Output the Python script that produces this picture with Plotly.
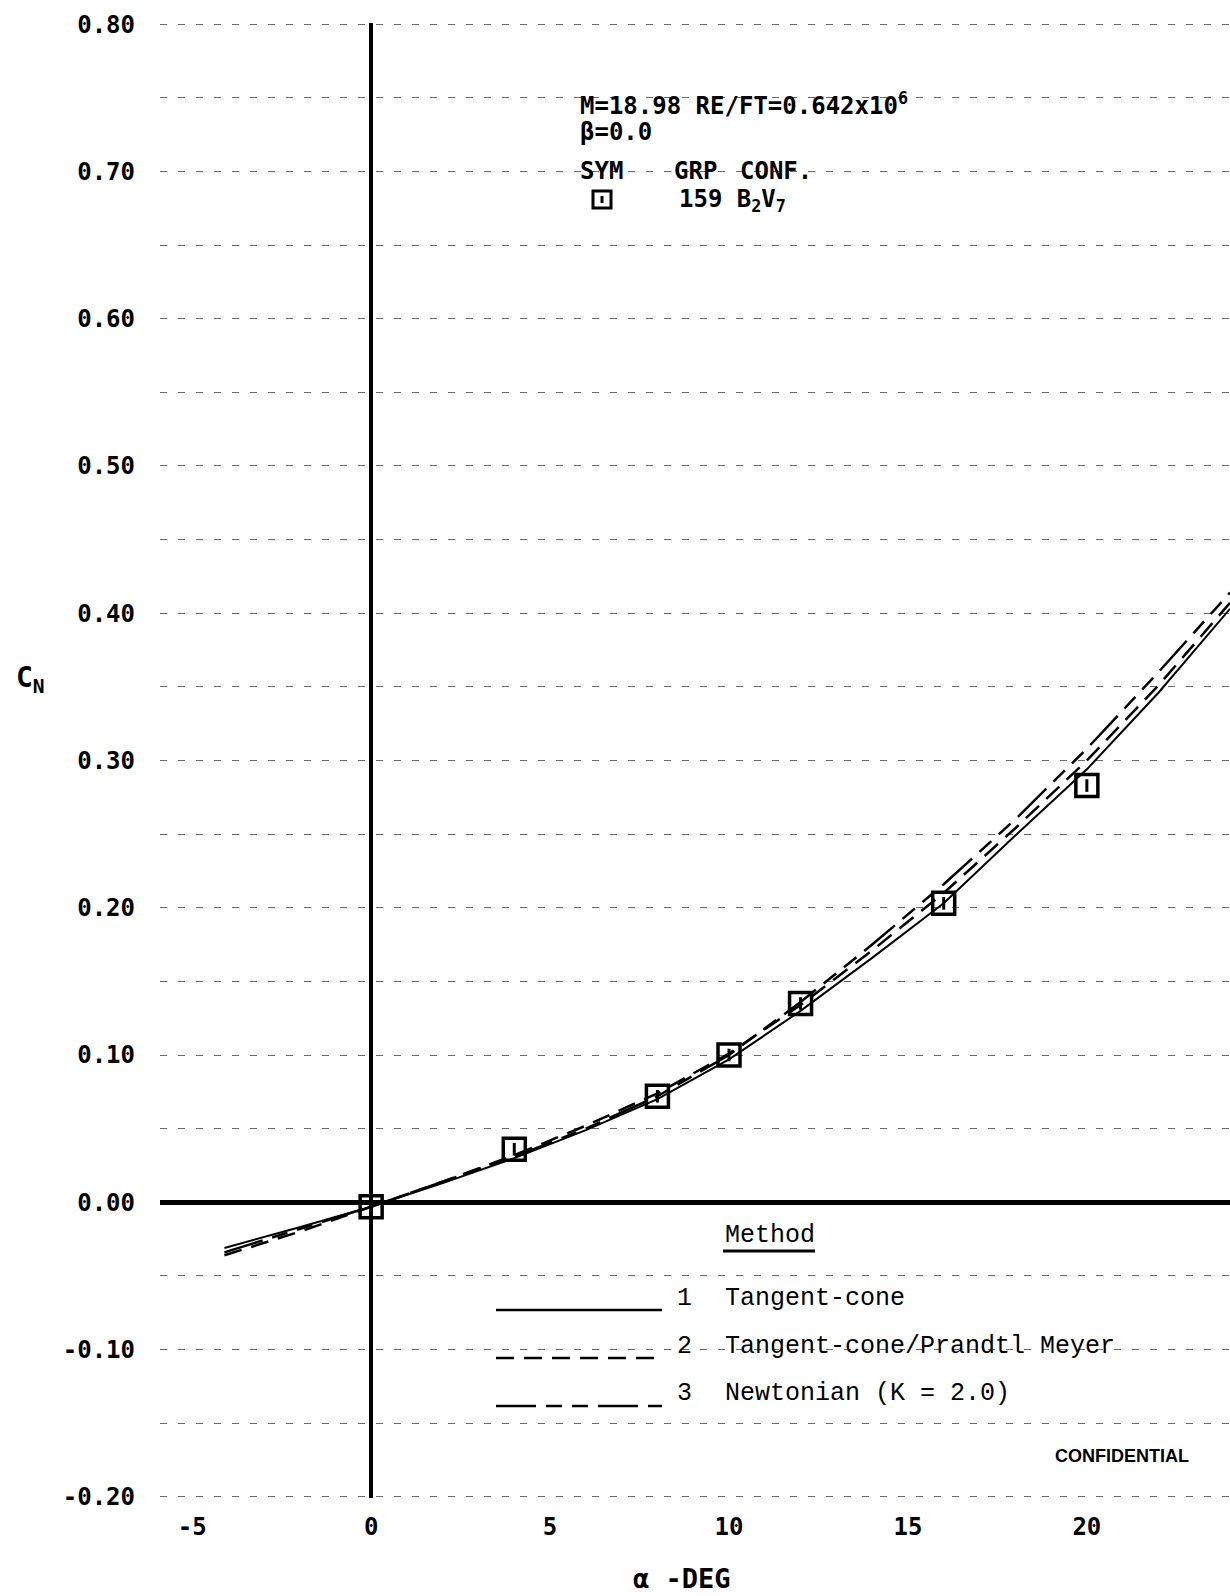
import plotly.graph_objects as go

# ---- data ----
alpha_test = [0, 4, 8, 10, 12, 16, 20]
cn_test = [-0.003, 0.036, 0.072, 0.100, 0.135, 0.203, 0.283]

alpha_curve = [-4.1, -2, 0, 2, 4, 6, 8, 10, 12, 14, 16, 18, 20, 22, 24]
cn_tangent_cone = [-0.031, -0.017, -0.003, 0.013, 0.030, 0.049, 0.070, 0.097, 0.130, 0.166, 0.203, 0.249, 0.294, 0.346, 0.403]
cn_tc_prandtl_meyer = [-0.036, -0.020, -0.003, 0.014, 0.032, 0.052, 0.074, 0.101, 0.134, 0.171, 0.210, 0.254, 0.300, 0.351, 0.407]
cn_newtonian = [-0.034, -0.018, -0.003, 0.014, 0.031, 0.050, 0.072, 0.100, 0.136, 0.175, 0.216, 0.260, 0.308, 0.360, 0.414]

x_tick_vals = [-5, 0, 5, 10, 15, 20]
x_tick_text = ["-5", "0", "5", "10", "15", "20"]
y_tick_vals = [-0.2, -0.1, 0.0, 0.1, 0.2, 0.3, 0.4, 0.5, 0.6, 0.7, 0.8]
y_tick_text = ["-0.20", "-0.10", "0.00", "0.10", "0.20", "0.30", "0.40", "0.50", "0.60", "0.70", "0.80"]

method_names = ["Tangent-cone", "Tangent-cone/Prandtl Meyer", "Newtonian (K = 2.0)"]

PLOT_FONT = "DejaVu Sans Mono"
TYPE_FONT = "Liberation Mono"
DASH2 = "18px,10px"
DASH3 = "40px,10px,16px,10px,16px,10px"

fig = go.Figure()

fig.add_trace(go.Scatter(x=alpha_curve, y=cn_tangent_cone, mode="lines",
                         line=dict(color="black", width=2), name=method_names[0]))
fig.add_trace(go.Scatter(x=alpha_curve, y=cn_tc_prandtl_meyer, mode="lines",
                         line=dict(color="black", width=2.5, dash=DASH2), name=method_names[1]))
fig.add_trace(go.Scatter(x=alpha_curve, y=cn_newtonian, mode="lines",
                         line=dict(color="black", width=2.5, dash=DASH3), name=method_names[2]))
fig.add_trace(go.Scatter(x=alpha_test, y=cn_test, mode="markers",
                         marker=dict(symbol="square-open", size=22, color="black",
                                     line=dict(width=3.5, color="black")), name="159 B2V7"))
fig.add_trace(go.Scatter(x=alpha_test, y=cn_test, mode="markers",
                         marker=dict(symbol="line-ns-open", size=9, color="black",
                                     line=dict(width=3, color="black")), hoverinfo="skip"))

grid_color = "#6a6a6a"
fig.update_layout(
    width=1230, height=1596,
    margin=dict(l=160, r=0, t=23, b=98),
    plot_bgcolor="white", paper_bgcolor="white",
    showlegend=False,
    xaxis=dict(range=[-5.9, 24.0], tickmode="array", tickvals=x_tick_vals, ticktext=x_tick_text,
               showgrid=False, zeroline=True, zerolinewidth=4, zerolinecolor="black",
               showline=False, ticks="",
               tickfont=dict(family=PLOT_FONT, size=24, color="black", weight="bold"),
               ticklabelstandoff=12),
    yaxis=dict(range=[-0.2008, 0.8008], tickmode="array", tickvals=y_tick_vals, ticktext=y_tick_text,
               showgrid=True, gridcolor=grid_color, gridwidth=1.2, griddash="7px,11px",
               minor=dict(dtick=0.05, tick0=0, showgrid=True, gridcolor=grid_color,
                          gridwidth=1.2, griddash="7px,11px"),
               zeroline=True, zerolinewidth=5, zerolinecolor="black",
               showline=False, ticks="",
               tickfont=dict(family=PLOT_FONT, size=24, color="black", weight="bold"),
               ticklabelstandoff=24),
)

# window-pixel -> paper coordinates (plot area spans x 160..1230, y 23..1498)
def px_x(px):
    return (px - 160) / 1070.0

def px_y(py):
    return (1498 - py) / 1475.0

ann = []
plot_font = dict(family=PLOT_FONT, size=24, color="black", weight="bold")
# axis titles
ann.append(dict(x=px_x(682), y=px_y(1578), text="α -DEG", font=dict(family=PLOT_FONT, size=27, color="black", weight="bold"),
                showarrow=False, xref="paper", yref="paper", xanchor="center", yanchor="middle"))
ann.append(dict(x=px_x(30), y=px_y(679), text="C<sub>N</sub>", font=dict(family=PLOT_FONT, size=28, color="black", weight="bold"),
                showarrow=False, xref="paper", yref="paper", xanchor="center", yanchor="middle"))
# header block
ann.append(dict(x=px_x(578), y=px_y(104), text="M=18.98 RE/FT=0.642x10<sup>6</sup>", font=plot_font,
                showarrow=False, xref="paper", yref="paper", xanchor="left", yanchor="middle"))
ann.append(dict(x=px_x(578), y=px_y(132), text="β=0.0", font=plot_font,
                showarrow=False, xref="paper", yref="paper", xanchor="left", yanchor="middle"))
for txt, xp in [("SYM", 578), ("GRP", 672), ("CONF.", 738)]:
    ann.append(dict(x=px_x(xp), y=px_y(171), text=txt, font=plot_font,
                    showarrow=False, xref="paper", yref="paper", xanchor="left", yanchor="middle"))
ann.append(dict(x=px_x(677), y=px_y(200), text="159 B<sub>2</sub>V<sub>7</sub>", font=plot_font,
                showarrow=False, xref="paper", yref="paper", xanchor="left", yanchor="middle"))

# method legend
type_font = dict(family=TYPE_FONT, size=25, color="black")
ann.append(dict(x=px_x(723), y=px_y(1235), text="Method", font=type_font,
                showarrow=False, xref="paper", yref="paper", xanchor="left", yanchor="middle"))
legend_rows = [(1298, 1310, "solid"), (1346, 1358, DASH2), (1393, 1406, DASH3)]
shapes = []
for i, (ty, ly, dash) in enumerate(legend_rows):
    ann.append(dict(x=px_x(684), y=px_y(ty), text=str(i + 1), font=type_font,
                    showarrow=False, xref="paper", yref="paper", xanchor="center", yanchor="middle"))
    ann.append(dict(x=px_x(723), y=px_y(ty), text=method_names[i], font=type_font,
                    showarrow=False, xref="paper", yref="paper", xanchor="left", yanchor="middle"))
    shapes.append(dict(type="line", xref="paper", yref="paper", x0=px_x(496), x1=px_x(662),
                       y0=px_y(ly), y1=px_y(ly), line=dict(color="black", width=2.5, dash=dash)))
shapes.append(dict(type="line", xref="paper", yref="paper", x0=px_x(723), x1=px_x(815),
                   y0=px_y(1251), y1=px_y(1251), line=dict(color="black", width=3)))
# header symbol
shapes.append(dict(type="rect", xref="paper", yref="paper", x0=px_x(593), x1=px_x(611),
                   y0=px_y(208), y1=px_y(191), line=dict(color="black", width=3)))
shapes.append(dict(type="line", xref="paper", yref="paper", x0=px_x(602), x1=px_x(602),
                   y0=px_y(203), y1=px_y(196), line=dict(color="black", width=3)))

ann.append(dict(x=px_x(1122), y=px_y(1456), text="<b>CONFIDENTIAL</b>",
                font=dict(family="Liberation Sans", size=18, color="black"),
                showarrow=False, xref="paper", yref="paper", xanchor="center", yanchor="middle"))

fig.update_layout(annotations=ann, shapes=shapes)
fig.write_html("out.html", config={"displayModeBar": False},
               post_script="document.body.style.margin='0';document.body.style.overflow='hidden';")
